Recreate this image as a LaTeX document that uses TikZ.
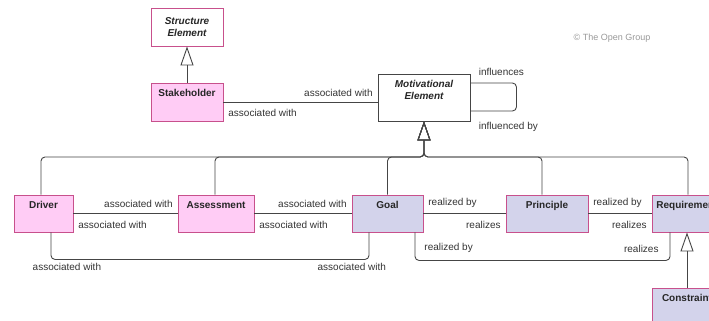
\documentclass[tikz,border=0pt]{standalone}
\usepackage{fontspec}
\setmainfont{Liberation Sans}
\usetikzlibrary{arrows.meta,calc}
\definecolor{boxline}{HTML}{C8508C}
\definecolor{pinkfill}{HTML}{FFCCF5}
\definecolor{lavfill}{HTML}{D3D3EB}
\definecolor{connline}{HTML}{454545}
\definecolor{labeltext}{HTML}{333333}
\tikzset{
	elem/.style     = {draw=boxline, line width=0.9pt, font=\bfseries, text=black!85,
		minimum height=37pt, text height=8pt, text depth=19pt, inner ysep=5pt, inner xsep=1pt},
	pinkelem/.style = {elem, fill=pinkfill},
	lavelem/.style  = {elem, fill=lavfill},
	abstract/.style = {draw, line width=0.9pt, fill=white, font=\bfseries\itshape,
		text=black!85, align=center},
	conn/.style     = {draw=connline, line width=0.9pt, rounded corners=4pt},
	gen/.style      = {conn, -{Triangle[open, length=19pt, width=13pt]}},
	lab/.style      = {text=labeltext, inner xsep=4.5pt, inner ysep=5.3pt} % relation label
}

\begin{document}
\begin{tikzpicture}[x=1pt, y=-1pt]
\useasboundingbox (0,0) rectangle (709,321);
\clip (0,0) rectangle (709,321);
\draw
% Drawing the elements
node at (187,27) [abstract, draw=boxline, minimum width=72pt, minimum height=38pt] (se) {Structure\\Element}
node at (187,102) [pinkelem, minimum width=72pt, minimum height=38pt] (stk) {Stakeholder}
node at (424,97.5) [abstract, draw=connline, minimum width=92pt, minimum height=47pt,
	text height=20pt, text depth=17pt, inner ysep=5pt] (me) {Motivational\\Element}
node at (43.5,213.5) [pinkelem, minimum width=59pt] (drv) {Driver}
node at (216,213.5) [pinkelem, minimum width=76pt] (ass) {Assessment}
node at (387.5,213.5) [lavelem, minimum width=71pt] (goal) {Goal}
node at (547,213.5) [lavelem, minimum width=82pt] (pri) {Principle}
node at (687,213.5) [lavelem, minimum width=70pt] (req) {Requirement}
node at (687,306.5) [lavelem, minimum width=70pt] (con) {Constraint}
node at (612,38) [text=black!40, font=\small] (cpy) {\textcopyright{} The Open Group};

\coordinate (bus) at (424,157);

% Specialisation
\draw[gen] (stk) -- (se);
\draw[gen] ([xshift=-2.5pt]drv.north) |- (bus) -- (me);
\draw[gen] ([xshift=-1pt]ass.north) |- (bus) -- (me);
\draw[gen] (goal) |- (bus) -- (me);
\draw[gen] ([xshift=-5pt]pri.north) |- (bus) -- (me);
\draw[gen] ([xshift=1pt]req.north) |- (bus) -- (me);
\draw[gen] (con) -- (req);

% Associations
\draw[conn] (stk.east) -- node[lab, pos=0, below right, inner ysep=7pt] {associated with}
	node[lab, pos=1, above left] {associated with} (stk.east -| me.west);
\draw[conn] ([yshift=14.5pt]me.east) -- node[lab, pos=0, above right, inner xsep=8pt, inner ysep=7pt] {influences}
	++(46,0) -- ++(0,28) -- node[lab, pos=1, below right, inner xsep=8pt, inner ysep=11pt] {influenced by}
	([yshift=-13.5pt]me.east);
\draw[conn] (drv) -- node[lab, pos=0, below right, inner ysep=7pt] {associated with}
	node[lab, pos=1, above left] {associated with} (ass);
\draw[conn] (ass) -- node[lab, pos=0, below right, inner ysep=7pt] {associated with}
	node[lab, pos=1, above left] {associated with} (goal);
\draw[conn] ([xshift=7.5pt]drv.south) -- ++(0,27)
	-| node[lab, pos=0.025, below, inner ysep=3pt] {associated with}
	node[lab, pos=0.473, below, inner ysep=3pt] {associated with} ([xshift=-18.5pt]goal.south);

% Realizations
\draw[conn] (goal) -- node[lab, pos=0, above right] {realized by}
	node[lab, pos=1, below left, inner ysep=7pt] {realizes} (pri);
\draw[conn] (pri) -- node[lab, pos=0, above right] {realized by}
	node[lab, pos=1, below left, inner ysep=7pt] {realizes} (req);
\draw[conn] ([xshift=27.5pt]goal.south) -- ++(0,28)
	-| node[lab, pos=0, above right, inner xsep=9pt, inner ysep=7.3pt] {realized by}
	node[lab, pos=0.5, above left, inner xsep=11pt, inner ysep=7.3pt] {realizes} ([xshift=-17pt]req.south);
\end{tikzpicture}
\end{document}
